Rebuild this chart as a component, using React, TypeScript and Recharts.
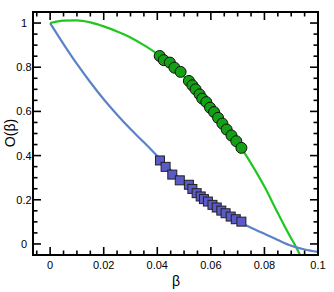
import {
  ComposedChart,
  Line,
  Scatter,
  XAxis,
  YAxis,
} from "recharts";

// curve through the circles (green) and the squares (blue)
const greenBeta = [0, 0.005, 0.01, 0.015, 0.02, 0.025, 0.03, 0.035, 0.04, 0.045, 0.05, 0.055, 0.06, 0.065, 0.07, 0.075, 0.08, 0.085, 0.09, 0.0912, 0.0933];
const greenO = [1.0, 1.011, 1.012, 1.003, 0.985, 0.962, 0.935, 0.9, 0.86, 0.81, 0.757, 0.697, 0.625, 0.545, 0.46, 0.365, 0.26, 0.14, 0.025, 0.0, -0.05];

const blueBeta = [0, 0.005, 0.01, 0.015, 0.02, 0.025, 0.03, 0.035, 0.04, 0.045, 0.05, 0.055, 0.06, 0.065, 0.07, 0.075, 0.08, 0.085, 0.09, 0.095, 0.1];
const blueO = [1.0, 0.905, 0.815, 0.732, 0.655, 0.585, 0.52, 0.46, 0.398, 0.335, 0.28, 0.228, 0.182, 0.14, 0.104, 0.073, 0.046, 0.018, -0.008, -0.025, -0.036];

const circleBeta = [0.0409, 0.0424, 0.0447, 0.0464, 0.0487, 0.0518, 0.0531, 0.0543, 0.0558, 0.0568, 0.0583, 0.0597, 0.0612, 0.0627, 0.0643, 0.0659, 0.0677, 0.0695, 0.0714];
const circleO = [0.851, 0.832, 0.821, 0.798, 0.779, 0.738, 0.718, 0.7, 0.677, 0.658, 0.642, 0.617, 0.597, 0.571, 0.545, 0.518, 0.491, 0.465, 0.435];

const squareBeta = [0.041, 0.0431, 0.0456, 0.0484, 0.0518, 0.0531, 0.0547, 0.0562, 0.0574, 0.0589, 0.0606, 0.0622, 0.0639, 0.0655, 0.0674, 0.0693, 0.0714];
const squareO = [0.378, 0.349, 0.314, 0.288, 0.268, 0.249, 0.23, 0.215, 0.203, 0.192, 0.177, 0.165, 0.151, 0.139, 0.124, 0.112, 0.101];

const xMajor = [0, 0.02, 0.04, 0.06, 0.08, 0.1];
const xMajorLabels = ["0", "0.02", "0.04", "0.06", "0.08", "0.1"];
const xMinor = [-0.005, 0.005, 0.01, 0.015, 0.025, 0.03, 0.035, 0.045, 0.05, 0.055, 0.065, 0.07, 0.075, 0.085, 0.09, 0.095];
const yMajor = [0, 0.2, 0.4, 0.6, 0.8, 1];
const yMajorLabels = ["0", "0.2", "0.4", "0.6", "0.8", "1"];
const yMinor = [0.05, 0.1, 0.15, 0.25, 0.3, 0.35, 0.45, 0.5, 0.55, 0.65, 0.7, 0.75, 0.85, 0.9, 0.95];

const zip = (xs: number[], ys: number[]) => xs.map((x, i) => ({ x, y: ys[i] }));
const greenCurve = zip(greenBeta, greenO);
const blueCurve = zip(blueBeta, blueO);
const circles = zip(circleBeta, circleO);
const squares = zip(squareBeta, squareO);

const xTicks = [...xMajor, ...xMinor].sort((a, b) => a - b);
const yTicks = [...yMajor, ...yMinor].sort((a, b) => a - b);

const FONT = "'Liberation Sans', Arial, sans-serif";
const MAJOR = 8;
const MINOR = 4.5;

const majorIndex = (list: number[], v: number) =>
  list.findIndex((m) => Math.abs(m - v) < 1e-9);

// ticks point into the frame, labels sit outside
const makeTick = (side: "bottom" | "top" | "left" | "right") => (props: any) => {
  const { x, y, payload } = props;
  const list = side === "bottom" || side === "top" ? xMajor : yMajor;
  const idx = majorIndex(list, payload.value);
  const len = idx >= 0 ? MAJOR : MINOR;
  let line;
  if (side === "bottom") line = <line x1={x} y1={y} x2={x} y2={y - len} />;
  else if (side === "top") line = <line x1={x} y1={y} x2={x} y2={y + len} />;
  else if (side === "left") line = <line x1={x} y1={y} x2={x + len} y2={y} />;
  else line = <line x1={x} y1={y} x2={x - len} y2={y} />;
  return (
    <g stroke="#000" strokeWidth={1.6}>
      {line}
      {idx >= 0 && side === "bottom" && (
        <text x={x} y={y + 14} textAnchor="middle" fontSize={11} fontFamily={FONT} fill="#000" stroke="none">
          {xMajorLabels[idx]}
        </text>
      )}
      {idx >= 0 && side === "left" && (
        <text x={x - 9} y={y + 4} textAnchor="middle" fontSize={11} fontFamily={FONT} fill="#000" stroke="none">
          {yMajorLabels[idx]}
        </text>
      )}
    </g>
  );
};

const Circle = (props: any) => (
  <circle cx={props.cx} cy={props.cy} r={5.5} fill="#14a014" stroke="#111" strokeWidth={1} />
);

const Square = (props: any) => (
  <rect x={props.cx - 4.5} y={props.cy - 4.5} width={9} height={9} fill="#5a5ac8" stroke="#222" strokeWidth={1} />
);

const XTitle = () => (
  <text x={176} y={286} textAnchor="middle" fontSize={14} fontFamily={FONT} fill="#000">
    β
  </text>
);

const YTitle = () => (
  <text x={15} y={133} transform="rotate(-90 15 133)" textAnchor="middle" fontSize={14} fontFamily={FONT} fill="#000">
    O(β)
  </text>
);

const frame = { stroke: "#000", strokeWidth: 2, strokeLinecap: "square" as const };

export default function App() {
  return (
    <div style={{ position: "absolute", left: 0, top: 0, width: 334, height: 292, background: "#fff" }}>
      <ComposedChart width={334} height={292} margin={{ top: 11, right: 15, bottom: 0, left: 0 }}>
        <XAxis
          xAxisId="b"
          dataKey="x"
          type="number"
          domain={[-0.0064, 0.1]}
          ticks={xTicks}
          interval={0}
          height={37}
          tickSize={0}
          tickMargin={0}
          tickLine={false}
          axisLine={frame}
          tick={makeTick("bottom")}
          label={{ content: XTitle }}
        />
        <XAxis
          xAxisId="t"
          dataKey="x"
          type="number"
          orientation="top"
          domain={[-0.0064, 0.1]}
          ticks={xTicks}
          interval={0}
          height={1}
          tickSize={0}
          tickMargin={0}
          tickLine={false}
          axisLine={frame}
          tick={makeTick("top")}
        />
        <YAxis
          yAxisId="l"
          dataKey="y"
          type="number"
          domain={[-0.05, 1.05]}
          ticks={yTicks}
          interval={0}
          width={33}
          tickSize={0}
          tickMargin={0}
          tickLine={false}
          axisLine={frame}
          tick={makeTick("left")}
          label={{ content: YTitle }}
        />
        <YAxis
          yAxisId="r"
          dataKey="y"
          type="number"
          orientation="right"
          domain={[-0.05, 1.05]}
          ticks={yTicks}
          interval={0}
          width={1}
          tickSize={0}
          tickMargin={0}
          tickLine={false}
          axisLine={frame}
          tick={makeTick("right")}
        />
        <Line xAxisId="b" yAxisId="l" data={greenCurve} dataKey="y" type="monotone" stroke="#1ec81e" strokeWidth={2.2} dot={false} isAnimationActive={false} />
        <Line xAxisId="b" yAxisId="l" data={blueCurve} dataKey="y" type="monotone" stroke="#5b82c8" strokeWidth={2.2} dot={false} isAnimationActive={false} />
        <Line xAxisId="t" yAxisId="r" data={blueCurve} dataKey="y" stroke="none" dot={false} isAnimationActive={false} />
        <Scatter xAxisId="b" yAxisId="l" data={circles} dataKey="y" shape={Circle} isAnimationActive={false} />
        <Scatter xAxisId="b" yAxisId="l" data={squares} dataKey="y" shape={Square} isAnimationActive={false} />
      </ComposedChart>
    </div>
  );
}
